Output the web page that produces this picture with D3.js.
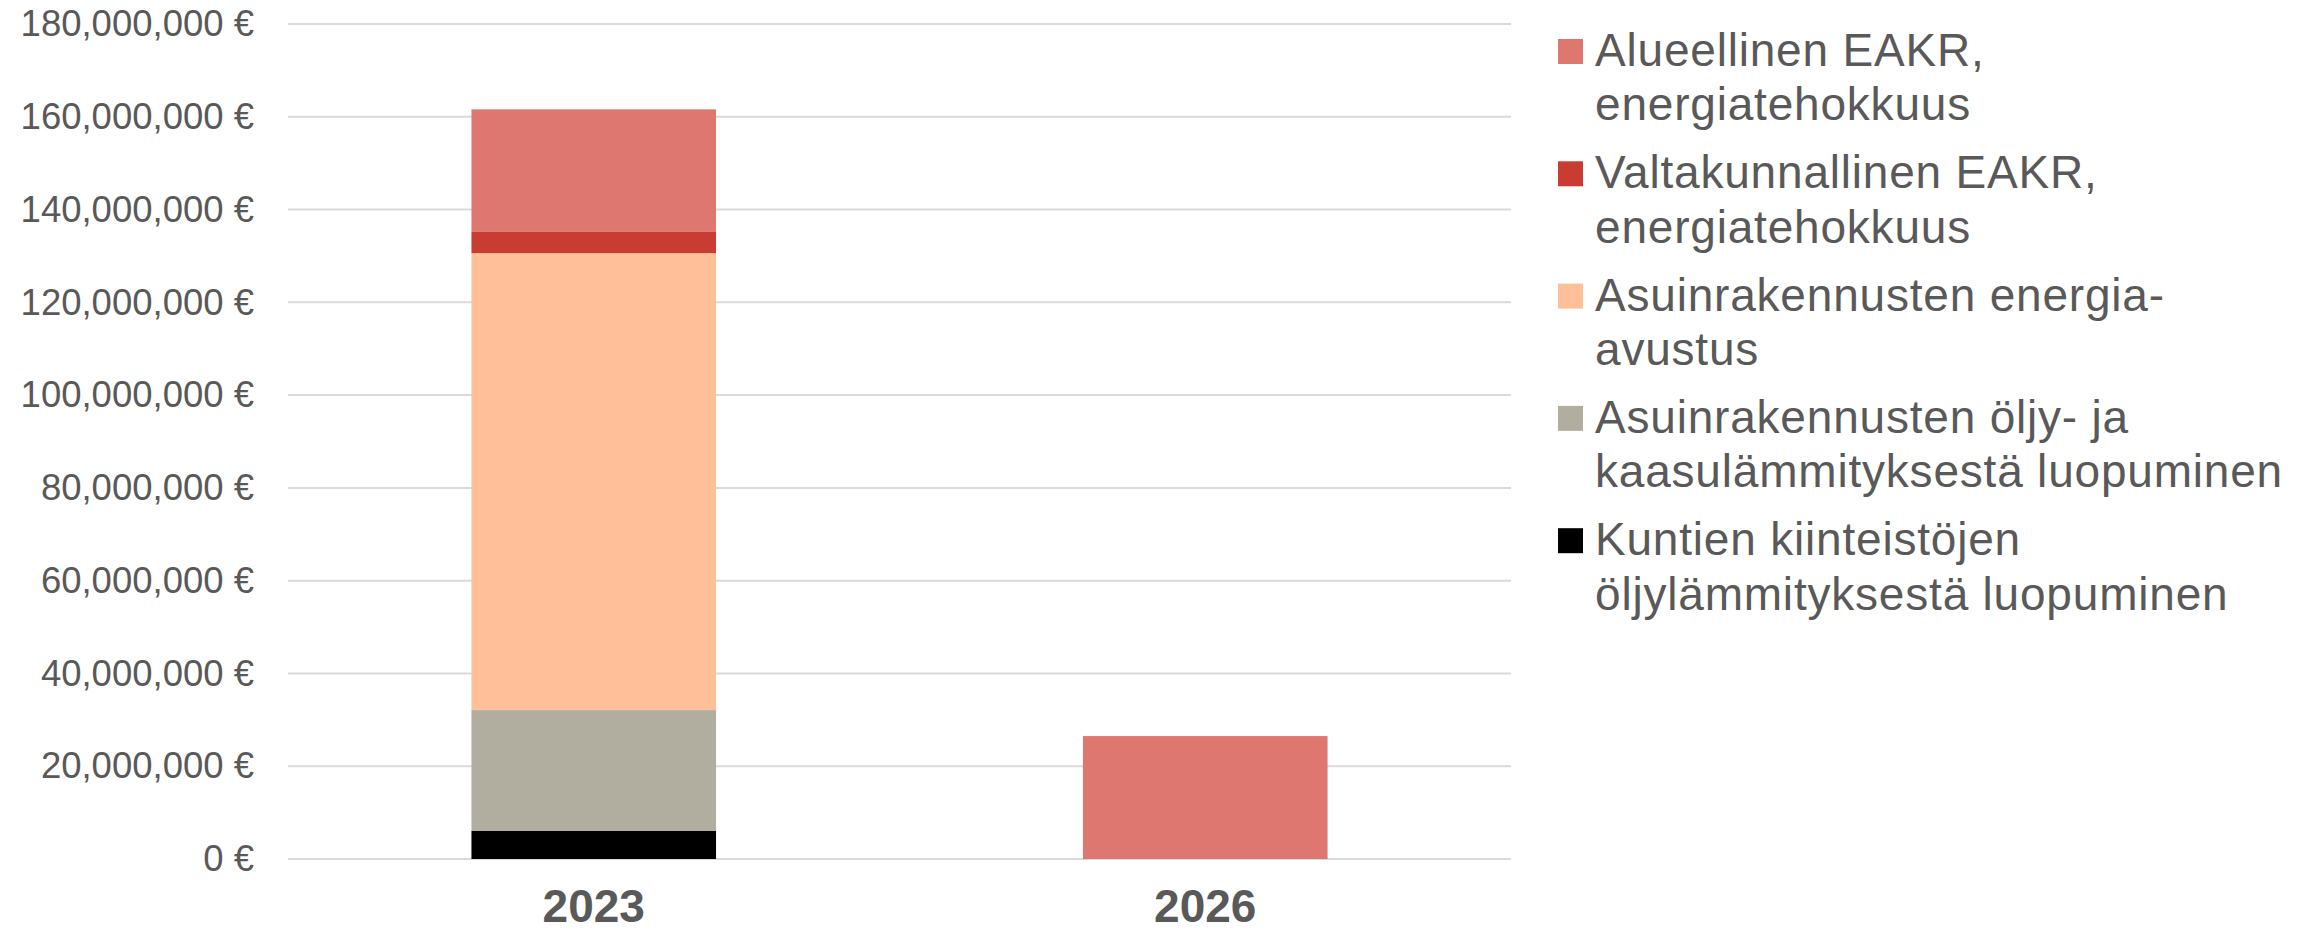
<!DOCTYPE html>
<html>
<head>
<meta charset="utf-8">
<script src="https://cdn.jsdelivr.net/npm/d3@7"></script>
<style>
  html, body { margin: 0; padding: 0; background: #ffffff; }
  svg { display: block; font-family: "Liberation Sans", Arial, sans-serif; }
</style>
</head>
<body>
<svg id="chart" width="2316" height="932"></svg>
<script>
// ---- data ----
const years = ["2023", "2026"];
const seriesNames = [
  "Kuntien kiinteistöjen öljylämmityksestä luopuminen",
  "Asuinrakennusten öljy- ja kaasulämmityksestä luopuminen",
  "Asuinrakennusten energia-avustus",
  "Valtakunnallinen EAKR, energiatehokkuus",
  "Alueellinen EAKR, energiatehokkuus"
];
const kuntienOljy = [6100000, 0];
const asuinOljyKaasu = [26000000, 0];
const asuinEnergia = [98500000, 0];
const valtakunnallinen = [4700000, 0];
const alueellinen = [26300000, 26500000];
const seriesColors = ["#000000", "#B1AE9F", "#FFBF99", "#C83C32", "#DD7770"];
const legendLines = [
  ["Alueellinen EAKR,", "energiatehokkuus"],
  ["Valtakunnallinen EAKR,", "energiatehokkuus"],
  ["Asuinrakennusten energia-", "avustus"],
  ["Asuinrakennusten öljy- ja", "kaasulämmityksestä luopuminen"],
  ["Kuntien kiinteistöjen", "öljylämmityksestä luopuminen"]
];
const legendColors = ["#DD7770", "#C83C32", "#FFBF99", "#B1AE9F", "#000000"];
const yTicks = [0, 20000000, 40000000, 60000000, 80000000, 100000000, 120000000, 140000000, 160000000, 180000000];

// ---- build table ----
const seriesArrays = [kuntienOljy, asuinOljyKaasu, asuinEnergia, valtakunnallinen, alueellinen];
const table = years.map((yr, i) => {
  const row = { year: yr };
  seriesNames.forEach((n, k) => row[n] = seriesArrays[k][i]);
  return row;
});
const stacked = d3.stack().keys(seriesNames)(table);

// ---- layout ----
const svg = d3.select("#chart");
const plot = { left: 288, right: 1511, top: 24, bottom: 859 };
const textColor = "#595959";

const x = d3.scaleBand().domain(years).range([plot.left, plot.right]).paddingInner(0.6).paddingOuter(0.3);
const y = d3.scaleLinear().domain([0, 180000000]).range([plot.bottom, plot.top]);

// gridlines
svg.append("g").selectAll("line").data(yTicks).join("line")
  .attr("x1", plot.left).attr("x2", plot.right)
  .attr("y1", d => y(d)).attr("y2", d => y(d))
  .attr("stroke", "#d9d9d9").attr("stroke-width", 2);

// y axis
const fmt = d3.format(",");
const yAxis = d3.axisLeft(y).tickValues(yTicks).tickSize(0).tickPadding(34)
  .tickFormat(d => fmt(d) + " €");
const yg = svg.append("g").attr("transform", `translate(${plot.left},0)`).call(yAxis);
yg.select(".domain").remove();
yg.selectAll("text").attr("fill", textColor).style("font-size", "36.5px")
  .style("font-family", "'Liberation Sans', Arial, sans-serif");

// bars
svg.append("g").selectAll("g").data(stacked).join("g")
  .attr("fill", (d, i) => seriesColors[i])
  .selectAll("rect").data(d => d).join("rect")
  .attr("x", d => x(d.data.year))
  .attr("width", x.bandwidth())
  .attr("y", d => y(d[1]))
  .attr("height", d => Math.max(0, y(d[0]) - y(d[1])));

// x axis
const xAxis = d3.axisBottom(x).tickSize(0).tickPadding(0);
const xg = svg.append("g").attr("transform", `translate(0,${plot.bottom})`).call(xAxis);
xg.select(".domain").remove();
xg.selectAll("text").attr("fill", textColor).attr("dy", null).attr("y", 63)
  .style("font-size", "46px").style("font-weight", "bold")
  .style("font-family", "'Liberation Sans', Arial, sans-serif");

// legend
const lg = svg.append("g");
const entries = lg.selectAll("g").data(legendLines).join("g")
  .attr("transform", (d, i) => `translate(1558, ${39 + i * 122.3})`);
entries.append("rect").attr("width", 25).attr("height", 25)
  .attr("fill", (d, i) => legendColors[i]);
entries.append("text")
  .attr("fill", textColor).style("font-size", "46px").style("letter-spacing", "0.8px")
  .selectAll("tspan").data(d => d).join("tspan")
  .attr("x", 37).attr("y", (d, j) => 27 + j * 54.4)
  .text(d => d);
</script>
</body>
</html>
